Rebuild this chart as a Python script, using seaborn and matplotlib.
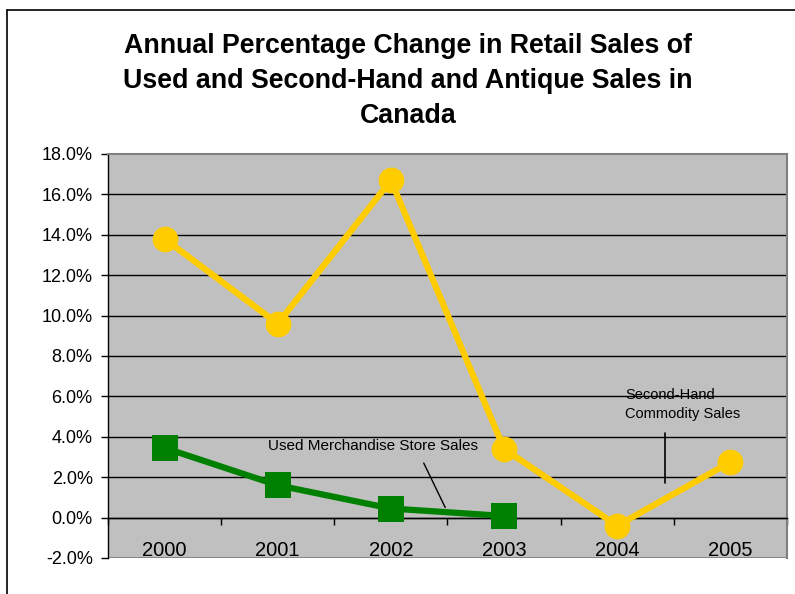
import numpy as np
import pandas as pd
import matplotlib
matplotlib.use("Agg")
import matplotlib.pyplot as plt
from matplotlib.lines import Line2D
from matplotlib.ticker import FixedLocator, FuncFormatter
import seaborn as sns

# ---- data ----
years = ["2000", "2001", "2002", "2003", "2004", "2005"]
second_hand = [13.8, 9.6, 16.7, 3.4, -0.4, 2.75]          # Second-Hand Commodity Sales (%)
used_years = ["2000", "2001", "2002", "2003"]
used_merch = [3.45, 1.6, 0.45, 0.08]                      # Used Merchandise Store Sales (%)
y_ticks = [-2, 0, 2, 4, 6, 8, 10, 12, 14, 16, 18]
title = ("Annual Percentage Change in Retail Sales of\n"
         "Used and Second-Hand and Antique Sales in\n"
         "Canada")
label_used = "Used Merchandise Store Sales"
label_second = "Second-Hand\nCommodity Sales"

sns.set_theme(style="white")
plt.rcParams["font.family"] = ["Liberation Sans", "DejaVu Sans"]

W, H = 795, 594
fig = plt.figure(figsize=(W / 100, H / 100), dpi=100)
fig.patch.set_facecolor("white")
ax = fig.add_axes([108 / W, 1 - 558 / H, (787 - 108) / W, (558 - 154) / H])
ax.set_facecolor("#C0C0C0")

pos = {y: i for i, y in enumerate(years)}
df_sh = pd.DataFrame({"x": [pos[y] for y in years], "v": second_hand})
df_um = pd.DataFrame({"x": [pos[y] for y in used_years], "v": used_merch})

sns.lineplot(data=df_sh, x="x", y="v", ax=ax, color="#FFCC00", linewidth=4.5,
             marker="o", markersize=18.5, markeredgecolor="#FFCC00",
             markeredgewidth=0, zorder=4)
sns.lineplot(data=df_um, x="x", y="v", ax=ax, color="#008000", linewidth=4.5,
             marker="s", markersize=18.5, markeredgecolor="#008000",
             markeredgewidth=0, zorder=4)

ax.set_xlim(-0.5, len(years) - 0.5)
ax.set_ylim(-2, 18)

# gridlines
for t in y_ticks[1:-1]:
    ax.axhline(t, color="black", linewidth=1.0, zorder=1)
ax.axhline(-2, color="#808080", linewidth=2.0, zorder=1)

# spines
ax.spines["left"].set_color("black")
ax.spines["left"].set_linewidth(1.0)
ax.spines["top"].set_color("#808080")
ax.spines["top"].set_linewidth(1.5)
ax.spines["right"].set_color("#808080")
ax.spines["right"].set_linewidth(1.5)
ax.spines["bottom"].set_position(("data", 0))
ax.spines["bottom"].set_color("black")
ax.spines["bottom"].set_linewidth(1.0)

# y axis
ax.yaxis.set_major_locator(FixedLocator(y_ticks))
ax.yaxis.set_major_formatter(FuncFormatter(lambda v, p: f"{v:.1f}%"))
ax.tick_params(axis="y", direction="out", length=5, width=1, color="black",
               labelsize=13, pad=6, labelcolor="black", left=True)

# x axis
ax.set_xticks(range(len(years)))
ax.set_xticklabels(years)
ax.set_xticks(np.arange(-0.5, len(years), 1.0), minor=True)
ax.tick_params(axis="x", which="major", length=0, labelsize=14.5, pad=17,
               labelcolor="black")
ax.tick_params(axis="x", which="minor", direction="out", length=5, width=1,
               color="black", bottom=True)
ax.set_xlabel("")
ax.set_ylabel("")

# annotations
ax.text(1.84, 3.55, label_used, ha="center", va="center", fontsize=11,
        color="black", zorder=5)
ax.plot([2.29, 2.48], [2.70, 0.50], color="black", linewidth=1.0, zorder=5)
ax.text(4.07, 5.6, label_second, ha="left", va="center", fontsize=10.5,
        color="black", linespacing=1.5, zorder=5)
ax.plot([4.42, 4.42], [4.2, 1.7], color="black", linewidth=1.2, zorder=5)

# title
fig.text(408 / W, 1 - 81 / H, title, ha="center", va="center",
         fontsize=19.3, fontweight="bold", linespacing=1.45, color="black")

# chart area frame (partially cropped like the reference)
fig.add_artist(Line2D([7 / W, 7 / W], [0, 1 - 10 / H], transform=fig.transFigure,
                      color="black", linewidth=1.2))
fig.add_artist(Line2D([7 / W, 1], [1 - 10 / H, 1 - 10 / H], transform=fig.transFigure,
                      color="black", linewidth=1.2))

fig.savefig("out.png", dpi=100)
